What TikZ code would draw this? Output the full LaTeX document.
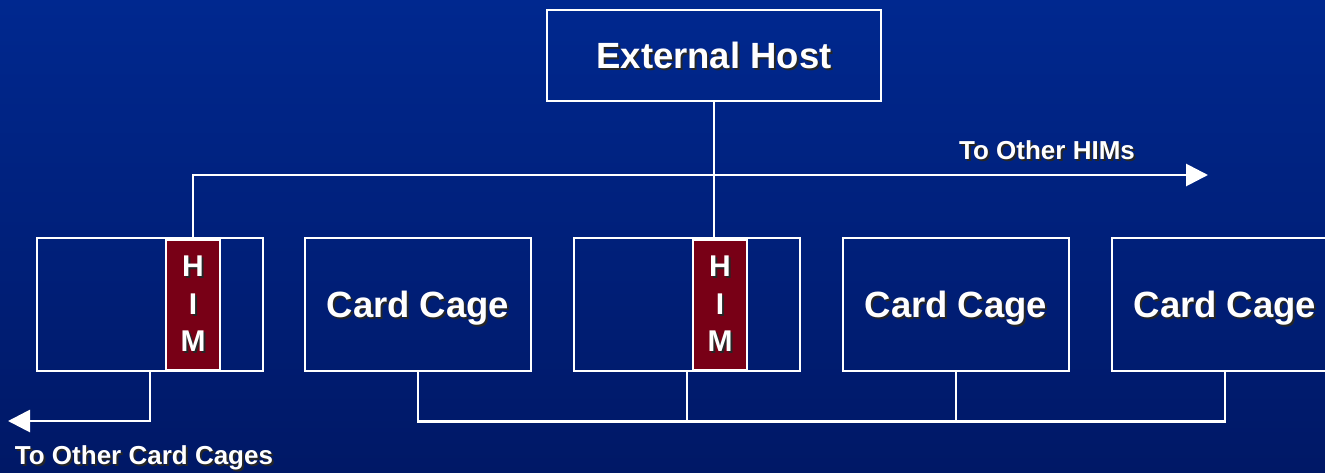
\documentclass[tikz,border=0pt]{standalone}
\usepackage{fontspec}
\setmainfont{Liberation Sans}
\usetikzlibrary{arrows.meta}
\definecolor{bgtop}{HTML}{00288F}
\definecolor{bgbot}{HTML}{001866}
\definecolor{himred}{HTML}{780016}
\newcommand\shtext[1]{\makebox[0pt][l]{\hspace{2pt}\raisebox{-2pt}{\color{black!85}#1}}#1}

\begin{document}
\begin{tikzpicture}[x=1pt,y=-1pt,
  every node/.style={text=white,font=\bfseries},
  box/.style={draw=white,line width=2.8pt,minimum width=226pt,minimum height=133pt,text depth=0pt,font=\fontsize{36.5}{40}\bfseries\selectfont},
  him/.style={draw=white,fill=himred,line width=2.4pt,minimum width=54pt,minimum height=130pt,align=center,font=\fontsize{30}{37.5}\bfseries\selectfont},
  conn/.style={draw=white,line width=2.8pt},
  tip/.style={-{Triangle[length=22pt,width=22pt]}},
  note/.style={font=\fontsize{26}{30}\bfseries\selectfont}]
\useasboundingbox (0,0) rectangle (1325,472);
\shade[top color=bgtop,bottom color=bgbot] (0,0) rectangle (1325,472);
\node[box,minimum width=334pt,minimum height=91pt] (host) at (714,55.5) {\shtext{External Host}};
\node[box] (cage1) at (150,304.5) {};
\node[box] (cage2) at (418,304.5) {\shtext{Card Cage}};
\node[box] (cage3) at (687,304.5) {};
\node[box] (cage4) at (956,304.5) {\shtext{Card Cage}};
\node[box] (cage5) at (1225,304.5) {\shtext{Card Cage}};
\node[him] (him1) at (193,305) {\raisebox{-3pt}{\shtext{H}}\\\raisebox{-3pt}{\shtext{I}}\\\raisebox{-3pt}{\shtext{M}}};
\node[him] (him2) at (720,305) {\raisebox{-3pt}{\shtext{H}}\\\raisebox{-3pt}{\shtext{I}}\\\raisebox{-3pt}{\shtext{M}}};
\coordinate (himsend) at (1208,175);
\coordinate (cagesend) at (8,421);
% links
\draw[conn] (host.south) -- (host.south |- him2.north);
\draw[conn,tip] (him1.north) |- (himsend);
\draw[conn,tip] (cage1.south) |- (cagesend);
\draw[conn] (cage2.south) -- ++(0,49) -| (cage5.south);
\draw[conn] (cage3.south) -- ++(0,49);
\draw[conn] (cage4.south) -- ++(0,49);
\node[note] (himlabel) at (1047,151) {\shtext{To Other HIMs}};
\node[note] (cagelabel) at (144,459) {\shtext{To Other Card Cages}};
\end{tikzpicture}
\end{document}
